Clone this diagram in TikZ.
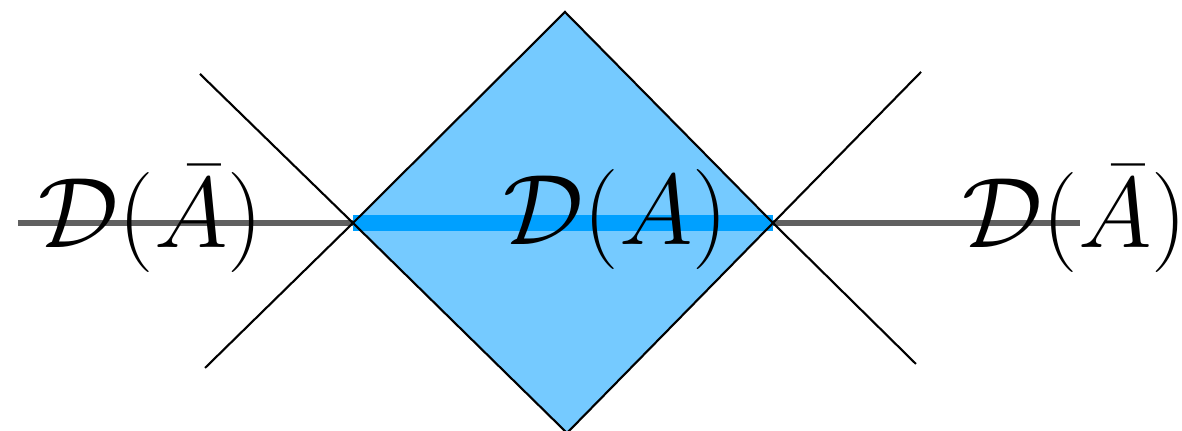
\RequirePackage{fix-cm}
\documentclass[tikz,border=0pt]{standalone}
\usepackage{amsmath}
\usetikzlibrary{calc}
\definecolor{domfill}{HTML}{75CAFF}
\definecolor{domline}{HTML}{00A0FF}
\tikzset{
  cone/.style={black,line width=0.6pt},           % light-cone edges
  slice/.style={gray!75!black,line width=1.5pt},  % time slice
  region/.style={domline,line width=4.5pt},        % interval A
  lbl/.style={inner sep=0pt,font=\fontsize{28.5}{34}\selectfont},
}
\begin{document}
\begin{tikzpicture}
  \useasboundingbox (0,0) rectangle (11.82,4.31);
  % vertices of the causal diamond
  \coordinate (L) at (3.53,2.08);
  \coordinate (R) at (7.73,2.08);
  \coordinate (T) at (5.65,4.19);
  \coordinate (B) at (5.67,-0.02);
  % free ends of the cone lines and of the slice
  \coordinate (lu) at (2.00,3.57);
  \coordinate (ld) at (2.05,0.63);
  \coordinate (ru) at (9.21,3.59);
  \coordinate (rd) at (9.16,0.67);
  \coordinate (s0) at (0.18,2.08);
  \coordinate (s1) at (10.80,2.08);
  \fill[domfill] (L) -- (T) -- (R) -- (B) -- cycle;
  \draw[slice] (s0) -- (L);
  \draw[slice] (R) -- (s1);
  \draw[region] (L) -- (R);
  \draw[cone] (lu) -- (L) -- (ld);
  \draw[cone] (ru) -- (R) -- (rd);
  \draw[cone] (L) -- (T) -- (R) -- (B) -- cycle;
  \node[lbl] (dl) at (1.51,2.12) {$\mathcal{D}(\bar{A})$};
  \node[lbl] (dm) at (6.16,2.12) {$\mathcal{D}(A)$};
  \node[lbl] (dr) at (10.75,2.12) {$\mathcal{D}(\bar{A})$};
\end{tikzpicture}
\end{document}
